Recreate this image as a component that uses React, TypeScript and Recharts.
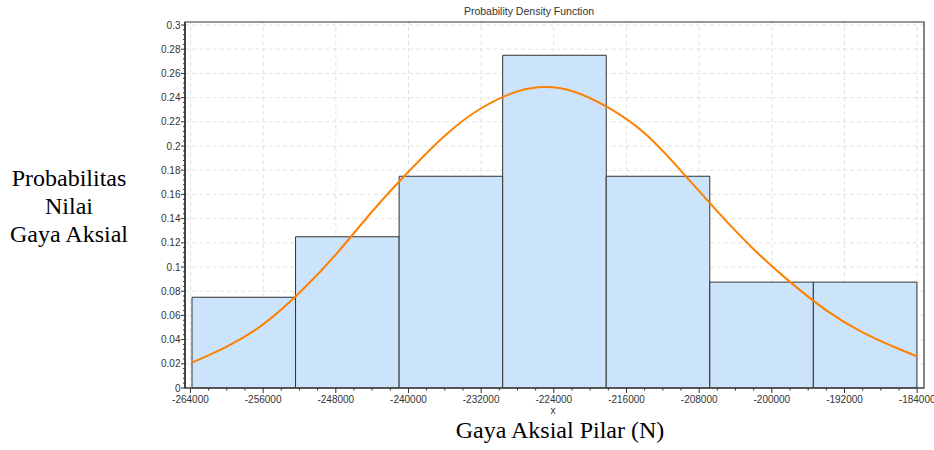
import React from 'react';
import { ComposedChart, Line, XAxis, YAxis, ReferenceArea, ReferenceLine } from 'recharts';

// histogram: bin edges (N) and relative frequency per bin
const binEdges = [-263830, -252430, -241030, -229630, -218230, -206830, -195430, -184030];
const binHeights = [0.075, 0.125, 0.175, 0.275, 0.175, 0.0875, 0.0875];

// fitted density curve
const curveX = [
  -263830, -260000, -256000, -252000, -248000, -244000, -240000, -236000, -232000, -228000,
  -225000, -222000, -218000, -214000, -210000, -206000, -202000, -198000, -194000, -190000,
  -186000, -184030,
];
const curveY = [
  0.021, 0.0342, 0.0526, 0.0787, 0.1103, 0.1459, 0.1787, 0.2085, 0.2312, 0.2452,
  0.2488, 0.2455, 0.2318, 0.2105, 0.1795, 0.146, 0.1147, 0.0877, 0.0642, 0.046,
  0.0322, 0.0262,
];

const xTicks = [-264000, -256000, -248000, -240000, -232000, -224000, -216000, -208000, -200000, -192000, -184000];
const yTicks = [0, 0.02, 0.04, 0.06, 0.08, 0.1, 0.12, 0.14, 0.16, 0.18, 0.2, 0.22, 0.24, 0.26, 0.28, 0.3];

const xDomain: [number, number] = [-264600, -183250];
const yDomain: [number, number] = [0, 0.3025];

const colors = {
  bar: '#CCE4FB',
  barEdge: '#333333',
  curve: '#FF8000',
  grid: '#E2E2E2',
  axis: '#333333',
  text: '#333333',
};

const tickFont = '"Liberation Sans", Arial, sans-serif';

// minor ticks between the labelled ones
function subdivide(ticks: number[], parts: number) {
  const out: number[] = [];
  for (let i = 0; i < ticks.length - 1; i++) {
    for (let k = 0; k < parts; k++) {
      out.push(Math.round((ticks[i] + ((ticks[i + 1] - ticks[i]) * k) / parts) * 1e6) / 1e6);
    }
  }
  out.push(ticks[ticks.length - 1]);
  return out;
}

const xAllTicks = subdivide(xTicks, 4);
const yAllTicks = subdivide(yTicks, 5);

const isMajor = (list: number[], v: number) => list.some((t) => Math.abs(t - v) < 1e-9);

function XTick(props: any) {
  const { x, y, payload } = props;
  const v = payload.value;
  const major = isMajor(xTicks, v);
  return (
    <g>
      <line x1={x} y1={y} x2={x} y2={y + (major ? 5 : 2.5)} stroke={colors.axis} />
      {major && (
        <text x={x} y={y + 15} textAnchor="middle" fontSize={10} fill={colors.text} fontFamily={tickFont}>
          {v}
        </text>
      )}
    </g>
  );
}

function YTick(props: any) {
  const { x, y, payload } = props;
  const v = payload.value;
  const major = isMajor(yTicks, v);
  return (
    <g>
      <line x1={x} y1={y} x2={x - (major ? 4 : 2)} y2={y} stroke={colors.axis} />
      {major && (
        <text x={x - 4.5} y={y + 3.5} textAnchor="end" fontSize={10} fill={colors.text} fontFamily={tickFont}>
          {String(Number(v.toFixed(2)))}
        </text>
      )}
    </g>
  );
}

export default function App() {
  const data = curveX.map((x, i) => ({ x, y: curveY[i] }));

  return (
    <div style={{ position: 'absolute', left: 0, top: 0, width: 934, height: 450, background: '#fff' }}>
      <ComposedChart width={934} height={450} data={data} margin={{ top: 22, right: 10, left: 0, bottom: 22 }}>
        <XAxis
          dataKey="x"
          type="number"
          domain={xDomain}
          allowDataOverflow
          ticks={xAllTicks}
          interval={0}
          tick={<XTick />}
          tickLine={false}
          tickSize={0}
          tickMargin={0}
          height={40}
          axisLine={{ stroke: '#666' }}
        />
        <YAxis
          type="number"
          domain={yDomain}
          allowDataOverflow
          ticks={yAllTicks}
          interval={0}
          tick={<YTick />}
          tickLine={false}
          tickSize={0}
          tickMargin={0}
          width={185}
          axisLine={{ stroke: colors.axis, strokeWidth: 1.5 }}
        />
        {yTicks.slice(1).map((t) => (
          <ReferenceLine key={'gy' + t} y={t} stroke={colors.grid} strokeDasharray="4 3" zIndex={-50} />
        ))}
        {xTicks.map((t) => (
          <ReferenceLine key={'gx' + t} x={t} stroke={colors.grid} strokeDasharray="4 3" zIndex={-50} />
        ))}
        {binHeights.map((h, i) => (
          <ReferenceArea
            key={'bin' + i}
            x1={binEdges[i]}
            x2={binEdges[i + 1]}
            y1={0}
            y2={h}
            fill={colors.bar}
            fillOpacity={1}
            stroke={colors.barEdge}
            strokeWidth={1}
            ifOverflow="visible"
            zIndex={100}
          />
        ))}
        <Line
          type="natural"
          dataKey="y"
          stroke={colors.curve}
          strokeWidth={2}
          dot={false}
          activeDot={false}
          isAnimationActive={false}
          zIndex={400}
        />
        <ReferenceArea
          x1={xDomain[0]}
          x2={xDomain[1]}
          y1={yDomain[0]}
          y2={yDomain[1]}
          fill="none"
          stroke={colors.axis}
          strokeWidth={1.2}
          ifOverflow="visible"
          zIndex={500}
        />
      </ComposedChart>

      <div
        style={{
          position: 'absolute', left: 429, top: 5, width: 200, textAlign: 'center',
          fontFamily: tickFont, fontSize: 10.5, lineHeight: '12px', color: colors.text,
        }}
      >
        Probability Density Function
      </div>
      <div
        style={{
          position: 'absolute', left: 503, top: 405, width: 100, textAlign: 'center',
          fontFamily: tickFont, fontSize: 10, lineHeight: '12px', color: colors.text,
        }}
      >
        x
      </div>
      <div
        style={{
          position: 'absolute', left: 0, top: 164, width: 138, textAlign: 'center',
          fontFamily: '"Liberation Serif", "Times New Roman", serif', fontSize: 24, lineHeight: '28px', color: '#000',
        }}
      >
        Probabilitas<br />Nilai<br />Gaya Aksial
      </div>
      <div
        style={{
          position: 'absolute', left: 410, top: 416, width: 300, textAlign: 'center',
          fontFamily: '"Liberation Serif", "Times New Roman", serif', fontSize: 24, lineHeight: '28px', color: '#000',
        }}
      >
        Gaya Aksial Pilar (N)
      </div>
    </div>
  );
}
